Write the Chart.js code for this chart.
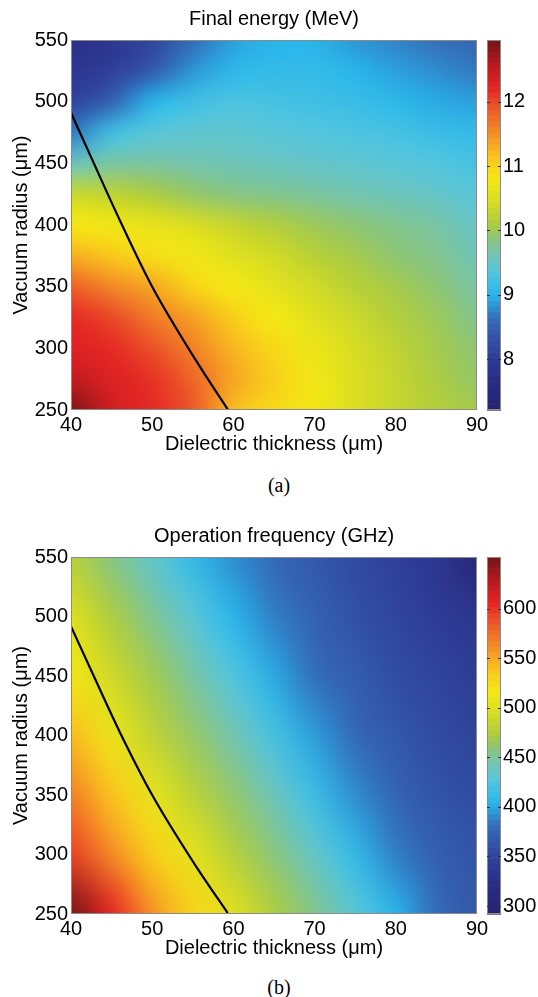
<!DOCTYPE html>
<html>
<head>
<meta charset="utf-8">
<script src="https://cdn.jsdelivr.net/npm/chart.js@4.4.0/dist/chart.umd.min.js"></script>
<style>
  html, body { margin: 0; padding: 0; background: #fff; }
  body { width: 538px; height: 997px; position: relative; overflow: hidden; }
  .panel { position: absolute; left: 0; width: 538px; }
  #panelA { top: 0; height: 460px; }
  #panelB { top: 517px; height: 447px; }
  .caption { position: absolute; left: 249px; width: 60px; text-align: center;
    font: 20px "Liberation Serif", "Times New Roman", serif; line-height: 24px; color: #000; }
</style>
</head>
<body>
<div class="panel" id="panelA"><canvas id="chartA"></canvas></div>
<div class="caption" style="top:473px">(a)</div>
<div class="panel" id="panelB"><canvas id="chartB"></canvas></div>
<div class="caption" style="top:975px">(b)</div>
<script>
// dielectric thickness (um) columns shared by both maps
var thickness = [40, 45, 50, 55, 60, 65, 70, 75, 80, 85, 90];
var thicknessTicks = [40, 50, 60, 70, 80, 90];
var radiusTicks = [250, 300, 350, 400, 450, 500, 550];

// final energy (MeV), rows from r = 550 down to r = 250 um
var radiusA = [550, 525, 500, 475, 450, 425, 400, 375, 350, 325, 300, 275, 250];
var energy = [
  [7.7, 7.9, 8.15, 8.6, 8.9, 9.0, 9.0, 8.85, 8.75, 8.65, 8.55],
  [7.9, 8.05, 8.4, 8.85, 9.05, 9.1, 9.1, 9.0, 8.9, 8.8, 8.7],
  [8.1, 8.5, 9.0, 9.2, 9.3, 9.25, 9.2, 9.15, 9.05, 8.95, 8.9],
  [8.7, 9.2, 9.4, 9.45, 9.45, 9.4, 9.35, 9.3, 9.25, 9.15, 9.1],
  [9.55, 9.7, 9.7, 9.65, 9.6, 9.55, 9.5, 9.45, 9.4, 9.35, 9.25],
  [10.35, 10.25, 10.1, 9.95, 9.85, 9.8, 9.72, 9.65, 9.58, 9.5, 9.4],
  [10.8, 10.75, 10.65, 10.5, 10.3, 10.15, 10.0, 9.9, 9.8, 9.7, 9.5],
  [11.3, 11.1, 10.9, 10.75, 10.55, 10.4, 10.2, 10.05, 9.9, 9.8, 9.6],
  [11.85, 11.55, 11.35, 11.0, 10.8, 10.6, 10.4, 10.2, 10.05, 9.9, 9.7],
  [12.2, 12.0, 11.65, 11.4, 11.05, 10.8, 10.55, 10.35, 10.15, 10.0, 9.8],
  [12.3, 12.2, 11.95, 11.6, 11.25, 10.95, 10.7, 10.45, 10.25, 10.05, 9.9],
  [12.5, 12.3, 12.15, 11.8, 11.35, 11.05, 10.75, 10.5, 10.3, 10.1, 9.95],
  [12.9, 12.4, 12.2, 11.9, 11.2, 10.95, 10.75, 10.5, 10.3, 10.15, 10.05]
];
var energyRange = [7.21, 12.96];
var energyTicks = [8, 9, 10, 11, 12];
var boundaryA = [
  { x: 40, y: 491 }, { x: 43, y: 447.3 }, { x: 46, y: 404 },
  { x: 50, y: 350 }, { x: 55.6, y: 288 }, { x: 59.3, y: 250.6 }
];

// operation frequency (GHz), rows from r = 550 down to r = 250 um
var radiusB = [550, 500, 450, 400, 350, 300, 250];
var frequency = [
  [478, 457, 434, 410, 392, 378, 366, 355, 345, 335, 302],
  [500, 474, 453, 430, 405, 387, 373, 361, 350, 342, 335],
  [515, 491, 469, 448, 425, 401, 381, 370, 358, 349, 343],
  [542, 510, 483, 464, 444, 420, 397, 378, 366, 356, 348],
  [568, 539, 507, 481, 462, 440, 415, 392, 375, 363, 357],
  [595, 563, 533, 505, 478, 459, 435, 410, 387, 371, 363],
  [652, 607, 560, 530, 502, 474, 455, 430, 405, 380, 366]
];
var freqRange = [292, 652];
var freqTicks = [300, 350, 400, 450, 500, 550, 600];
var boundaryB = [
  { x: 40, y: 491.7 }, { x: 43, y: 447 }, { x: 46, y: 403 },
  { x: 50, y: 350 }, { x: 55.4, y: 290 }, { x: 59.3, y: 250.8 }
];

var FONT = { family: '"Liberation Sans", Arial, Helvetica, sans-serif', size: 20, weight: 'normal' };

// jet-like palette as it comes out in print
var PALETTE = [
  [0.0, [38, 36, 110]], [0.0625, [40, 42, 128]], [0.125, [45, 55, 145]],
  [0.19, [50, 80, 165]], [0.25, [52, 110, 185]], [0.3125, [40, 182, 235]],
  [0.375, [85, 198, 222]], [0.42, [115, 197, 180]], [0.46, [135, 197, 130]],
  [0.5, [170, 203, 65]], [0.5625, [215, 220, 35]], [0.625, [245, 232, 20]],
  [0.6875, [250, 195, 30]], [0.75, [243, 140, 38]], [0.8125, [236, 90, 40]],
  [0.875, [228, 35, 36]], [0.9375, [180, 25, 30]], [1.0, [115, 20, 22]]
];

function cmap(t) {
  t = Math.max(0, Math.min(1, t));
  for (var i = 1; i < PALETTE.length; i++) {
    if (t <= PALETTE[i][0]) {
      var a = PALETTE[i - 1], b = PALETTE[i];
      var f = (t - a[0]) / (b[0] - a[0]);
      return [0, 1, 2].map(function (k) { return Math.round(a[1][k] + (b[1][k] - a[1][k]) * f); });
    }
  }
  return PALETTE[PALETTE.length - 1][1];
}

function rgb(c) { return 'rgb(' + c[0] + ',' + c[1] + ',' + c[2] + ')'; }

function fixedTicks(values) {
  return function (scale) { scale.ticks = values.map(function (v) { return { value: v }; }); };
}

// grid of cells painted into a tiny image, then scaled onto the plot area
function heatmapPlugin(xs, ys, grid, range) {
  var img = document.createElement('canvas');
  img.width = xs.length;
  img.height = ys.length;
  var g = img.getContext('2d');
  var pix = g.createImageData(xs.length, ys.length);
  grid.forEach(function (row, j) {
    row.forEach(function (v, i) {
      var c = cmap((v - range[0]) / (range[1] - range[0]));
      var k = (j * xs.length + i) * 4;
      pix.data[k] = c[0]; pix.data[k + 1] = c[1]; pix.data[k + 2] = c[2]; pix.data[k + 3] = 255;
    });
  });
  g.putImageData(pix, 0, 0);

  return {
    id: 'heatmap',
    beforeDatasetsDraw: function (chart) {
      var a = chart.chartArea, sx = chart.scales.x, sy = chart.scales.y, c = chart.ctx;
      var hx = (xs[1] - xs[0]) / 2, hy = (ys[0] - ys[1]) / 2;
      var left = sx.getPixelForValue(xs[0] - hx);
      var right = sx.getPixelForValue(xs[xs.length - 1] + hx);
      var top = sy.getPixelForValue(ys[0] + hy);
      var bottom = sy.getPixelForValue(ys[ys.length - 1] - hy);
      c.save();
      c.beginPath();
      c.rect(a.left, a.top, a.right - a.left, a.bottom - a.top);
      c.clip();
      c.imageSmoothingEnabled = true;
      c.imageSmoothingQuality = 'high';
      c.drawImage(img, left, top, right - left, bottom - top);
      c.restore();
    },
    afterDatasetsDraw: function (chart) {
      var a = chart.chartArea, c = chart.ctx;
      c.save();
      c.strokeStyle = '#8a8a8a';
      c.lineWidth = 1;
      c.strokeRect(a.left + 0.5, a.top + 0.5, a.right - a.left - 1, a.bottom - a.top - 1);
      c.restore();
    }
  };
}

// 64-step colour bar drawn along the 'cb' scale
function colorbarPlugin(range) {
  return {
    id: 'colorbar',
    afterDraw: function (chart) {
      var s = chart.scales.cb, c = chart.ctx;
      var x0 = s.left + 10, w = 14, n = 64, span = range[1] - range[0];
      c.save();
      for (var i = 0; i < n; i++) {
        var y1 = s.getPixelForValue(range[0] + span * (i + 1) / n);
        var y2 = s.getPixelForValue(range[0] + span * i / n);
        c.fillStyle = rgb(cmap((i + 0.5) / n));
        c.fillRect(x0, y1, w, y2 - y1 + 0.6);
      }
      c.strokeStyle = '#8a8a8a';
      c.lineWidth = 1;
      c.strokeRect(x0 + 0.5, s.top + 0.5, w - 1, s.bottom - s.top - 1);
      c.strokeStyle = '#333';
      s.ticks.forEach(function (t) {
        var y = Math.round(s.getPixelForValue(t.value)) + 0.5;
        c.beginPath();
        c.moveTo(x0, y); c.lineTo(x0 + 3, y);
        c.moveTo(x0 + w - 3, y); c.lineTo(x0 + w, y);
        c.stroke();
      });
      c.restore();
    }
  };
}

function makePanel(id, title, ys, grid, range, cbTicks, boundary) {
  var ctx = document.getElementById(id);
  return new Chart(ctx, {
    type: 'scatter',
    data: {
      datasets: [{
        data: boundary,
        showLine: true,
        borderColor: '#000',
        borderWidth: 2.2,
        pointRadius: 0,
        cubicInterpolationMode: 'monotone',
        fill: false
      }]
    },
    options: {
      responsive: true,
      maintainAspectRatio: false,
      animation: false,
      layout: { padding: 0 },
      plugins: {
        legend: { display: false },
        tooltip: { enabled: false },
        title: {
          display: true, text: title, fullSize: false, color: '#000',
          font: FONT, padding: { top: 7, bottom: 9 }
        }
      },
      scales: {
        x: {
          type: 'linear', position: 'bottom', min: 40, max: 90,
          afterBuildTicks: fixedTicks(thicknessTicks),
          afterFit: function (s) { s.height = 50; },
          grid: { display: false, drawTicks: false },
          border: { display: false },
          ticks: { color: '#000', font: FONT, padding: 3, maxRotation: 0, autoSkip: false },
          title: { display: true, text: 'Dielectric thickness (μm)', color: '#000', font: FONT, padding: { top: 0, bottom: 4 } }
        },
        y: {
          type: 'linear', position: 'left', min: 250, max: 550,
          afterBuildTicks: fixedTicks(radiusTicks),
          afterFit: function (s) { s.width = 71; },
          grid: { display: false, drawTicks: false },
          border: { display: false },
          ticks: { color: '#000', font: FONT, padding: 3, autoSkip: false },
          title: { display: true, text: 'Vacuum radius (μm)', color: '#000', font: FONT, padding: { top: 9.4, bottom: 0 } }
        },
        cb: {
          type: 'linear', position: 'right', min: range[0], max: range[1],
          afterBuildTicks: fixedTicks(cbTicks),
          afterFit: function (s) { s.width = 61; },
          grid: { display: false, drawTicks: false },
          border: { display: false },
          ticks: { color: '#000', font: FONT, padding: 26, autoSkip: false }
        }
      }
    },
    plugins: [heatmapPlugin(thickness, ys, grid, range), colorbarPlugin(range)]
  });
}

makePanel('chartA', 'Final energy (MeV)', radiusA, energy, energyRange, energyTicks, boundaryA);
makePanel('chartB', 'Operation frequency (GHz)', radiusB, frequency, freqRange, freqTicks, boundaryB);
</script>
</body>
</html>
